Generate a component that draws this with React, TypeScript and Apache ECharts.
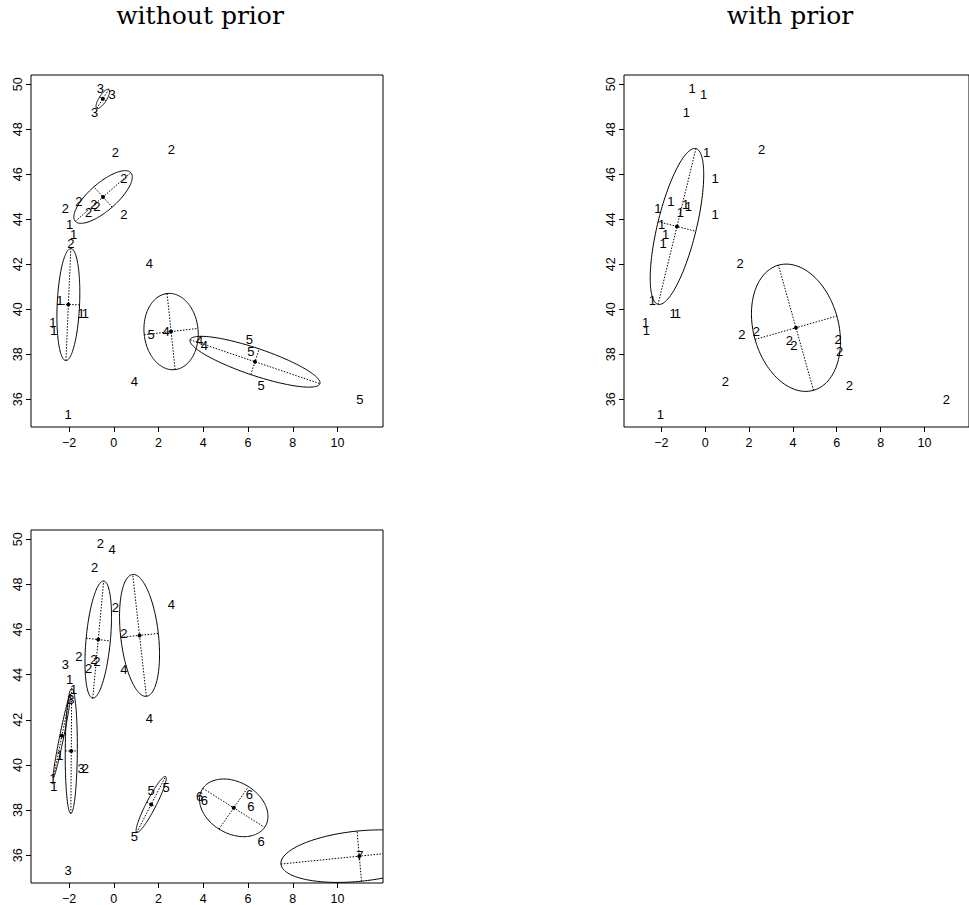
import React, { useEffect, useRef } from "react";
import * as echarts from "echarts";

// Shared observations (x, y)
const pointX = [-0.60, -0.07, -0.86, 0.07, 2.57, 0.45, -1.56, -2.16, -0.89, -0.76, -1.13, 0.45, -1.98, -1.80, -1.92, 1.59, -2.41, -1.46, -1.27, -2.72, -2.68, -2.04, 1.67, 2.34, 3.84, 4.05, 0.92, 6.06, 6.13, 6.58, 11.00];
const pointY = [49.82, 49.53, 48.74, 46.97, 47.10, 45.83, 44.81, 44.47, 44.66, 44.58, 44.29, 44.23, 43.78, 43.34, 42.92, 42.05, 40.41, 39.83, 39.83, 39.42, 39.05, 35.33, 38.86, 39.00, 38.60, 38.41, 36.81, 38.68, 38.14, 36.62, 36.00];

// Cluster labels per panel
const labelsWithoutPrior = [3, 3, 3, 2, 2, 2, 2, 2, 2, 2, 2, 2, 1, 1, 2, 4, 1, 1, 1, 1, 1, 1, 5, 4, 4, 4, 4, 5, 5, 5, 5];
const labelsWithPrior = [1, 1, 1, 1, 2, 1, 1, 1, 1, 1, 1, 1, 1, 1, 1, 2, 1, 1, 1, 1, 1, 1, 2, 2, 2, 2, 2, 2, 2, 2, 2];
const labelsThird = [2, 4, 2, 2, 4, 2, 2, 3, 2, 2, 2, 4, 1, 1, 3, 4, 1, 3, 2, 1, 1, 3, 5, 5, 6, 6, 5, 6, 6, 6, 7];

// Ellipses: [centerX, centerY, semiAxis1X, semiAxis1Y, semiAxis2X, semiAxis2Y]
const ellipsesWithoutPrior = [
  [-0.49, 49.35, 0.27, 0.42, 0.14, -0.09],
  [-0.48, 44.99, 1.24, 1.08, -0.41, 0.45],
  [-2.03, 40.21, 0.11, 2.49, 0.50, -0.01],
  [2.56, 39.01, -0.18, 1.69, 1.20, 0.14],
  [6.31, 37.67, 2.90, -0.975, 0.19, 0.57],
];
const ellipsesWithPrior = [
  [-1.285, 43.68, 0.865, 3.46, 0.86, -0.215],
  [4.14, 39.18, -0.80, 2.78, 1.865, 0.52],
];
const ellipsesThird = [
  [-0.695, 45.555, 0.245, 2.595, 0.54, -0.06],
  [1.15, 45.74, -0.305, 2.70, 0.84, 0.085],
  [-2.32, 41.29, 0.38, 1.85, 0.09, -0.02],
  [-1.90, 40.62, 0.02, 2.77, 0.27, 0.0],
  [1.67, 38.25, 0.645, 1.24, 0.195, -0.10],
  [5.36, 38.10, 1.38, -0.865, 0.66, 0.94],
  [10.97, 35.96, 3.50, 0.35, -0.10, 1.11],
];

const xTicks = [-2, 0, 2, 4, 6, 8, 10];
const yTicks = [36, 38, 40, 42, 44, 46, 48, 50];
const xMin = -3.70, xMax = 12.03, yMin = 34.77, yMax = 50.41;

const titles = ["without prior", "with prior"];

const SANS = "Liberation Sans, Arial, Helvetica, sans-serif";

export default function App() {
  const ref = useRef<HTMLDivElement>(null);
  useEffect(() => {
    if (!ref.current) return;
    const chart = echarts.init(ref.current, null, { renderer: "svg" });
    const grids = [
      { left: 31, top: 75, width: 352, height: 352 },
      { left: 624, top: 75, width: 352, height: 352 },
      { left: 31, top: 530, width: 352, height: 353 },
    ];
    const labelSets = [labelsWithoutPrior, labelsWithPrior, labelsThird];
    const ellipseSets = [ellipsesWithoutPrior, ellipsesWithPrior, ellipsesThird];

    const xAxis = grids.map((_, i) => ({
      gridIndex: i, type: "value", min: xMin, max: xMax, position: "bottom",
      axisLine: { show: false, onZero: false }, splitLine: { show: false },
      axisTick: { show: true, length: 5, customValues: xTicks, lineStyle: { color: "#000", width: 1 } },
      axisLabel: { customValues: xTicks, color: "#000", fontFamily: SANS, fontSize: 12.5, margin: 9, formatter: (v: number) => (v < 0 ? "\u2212" + Math.abs(v) : String(v)) },
    }));
    const yAxis = grids.map((_, i) => ({
      gridIndex: i, type: "value", min: yMin, max: yMax, position: "left",
      axisLine: { show: false, onZero: false }, splitLine: { show: false },
      axisTick: { show: true, length: 5, customValues: yTicks, lineStyle: { color: "#000", width: 1 } },
      axisLabel: { customValues: yTicks, color: "#000", fontFamily: SANS, fontSize: 12.5, margin: 7, rotate: 90 },
    }));

    const series: any[] = [];
    ellipseSets.forEach((set, i) => {
      series.push({
        type: "custom", xAxisIndex: i, yAxisIndex: i, silent: true,
        data: set,
        renderItem: (params: any, api: any) => {
          const cx = api.value(0), cy = api.value(1), ax = api.value(2), ay = api.value(3), bx = api.value(4), by = api.value(5);
          const pts: number[][] = [];
          const N = 160;
          for (let k = 0; k <= N; k++) {
            const t = (k / N) * 2 * Math.PI;
            pts.push(api.coord([cx + Math.cos(t) * ax + Math.sin(t) * bx, cy + Math.cos(t) * ay + Math.sin(t) * by]));
          }
          const c = api.coord([cx, cy]);
          const a1 = api.coord([cx - ax, cy - ay]), a2 = api.coord([cx + ax, cy + ay]);
          const b1 = api.coord([cx - bx, cy - by]), b2 = api.coord([cx + bx, cy + by]);
          const cs = params.coordSys;
          const dash = { stroke: "#000", lineWidth: 1, lineDash: [1.5, 1.5], fill: "none" };
          return {
            type: "group",
            clipPath: { type: "rect", shape: { x: cs.x, y: cs.y, width: cs.width, height: cs.height } },
            children: [
              { type: "polyline", shape: { points: pts }, style: { stroke: "#000", lineWidth: 1, fill: "none" } },
              { type: "line", shape: { x1: a1[0], y1: a1[1], x2: a2[0], y2: a2[1] }, style: dash },
              { type: "line", shape: { x1: b1[0], y1: b1[1], x2: b2[0], y2: b2[1] }, style: dash },
              { type: "circle", shape: { cx: c[0], cy: c[1], r: 2 }, style: { fill: "#000" } },
            ],
          };
        },
      });
    });
    labelSets.forEach((labels, i) => {
      series.push({
        type: "custom", xAxisIndex: i, yAxisIndex: i, silent: true,
        data: pointX.map((x, k) => [x, pointY[k], labels[k]]),
        renderItem: (_params: any, api: any) => {
          const p = api.coord([api.value(0), api.value(1)]);
          return {
            type: "text", x: p[0], y: p[1],
            style: { text: String(api.value(2)), fill: "#000", fontFamily: SANS, fontSize: 13, textAlign: "center", textVerticalAlign: "middle" },
          };
        },
        z: 5,
      });
    });

    chart.setOption({
      animation: false,
      backgroundColor: "#fff",
      grid: grids.map((g) => ({ ...g, show: true, borderColor: "#000", borderWidth: 1, backgroundColor: "transparent", containLabel: false })),
      xAxis, yAxis, series,
      graphic: [
        { type: "text", x: 200, y: 15, style: { text: titles[0], fontFamily: "DejaVu Serif, serif", fontSize: 25, fill: "#000", textAlign: "center", textVerticalAlign: "middle" } },
        { type: "text", x: 790, y: 15, style: { text: titles[1], fontFamily: "DejaVu Serif, serif", fontSize: 25, fill: "#000", textAlign: "center", textVerticalAlign: "middle" } },
      ],
    });
    return () => chart.dispose();
  }, []);
  return <div ref={ref} style={{ position: "absolute", left: 0, top: 0, width: 969, height: 905 }} />;
}
